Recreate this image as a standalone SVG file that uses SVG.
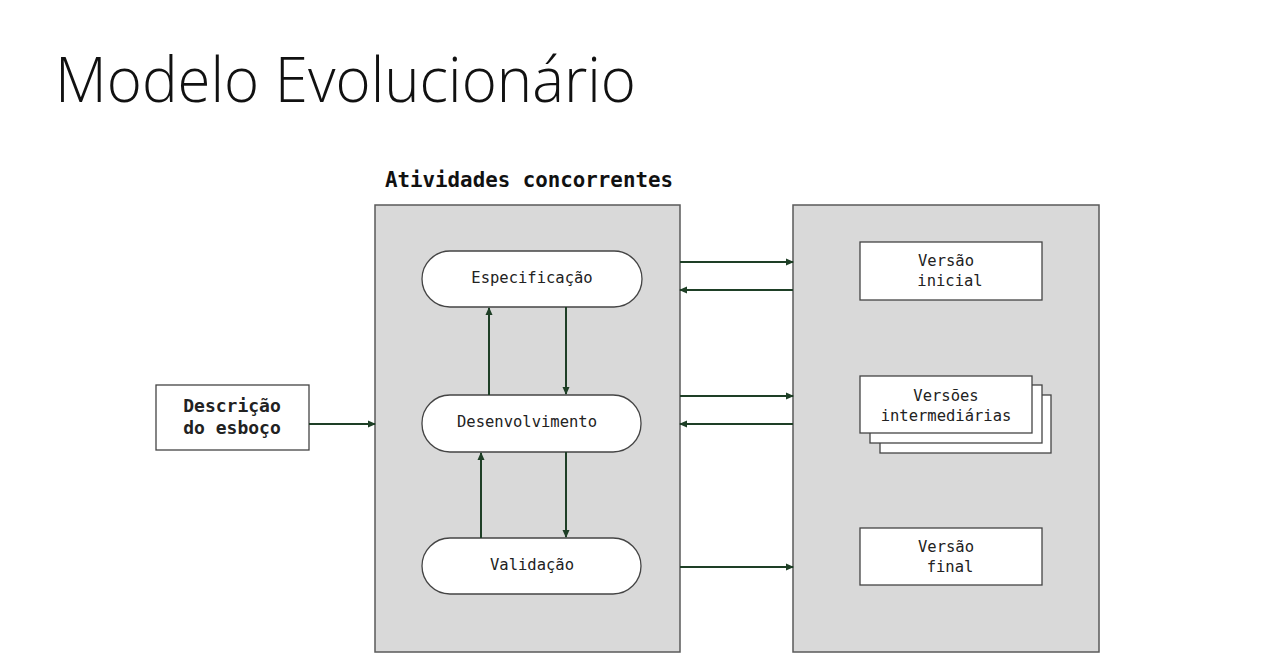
<svg xmlns="http://www.w3.org/2000/svg" width="1281" height="664" viewBox="0 0 1281 664">
<defs>
<marker id="ah" markerWidth="8" markerHeight="8" refX="7" refY="4" orient="auto" markerUnits="userSpaceOnUse">
<path d="M0,0.5 L8,4 L0,7.5 Z" fill="#1e3f26"/>
</marker>
</defs>
<style>
.title{font-family:"Open Sans","Liberation Sans",sans-serif;font-weight:300;font-size:62px;fill:#111}
.head{font-family:"DejaVu Sans Mono","Liberation Mono",monospace;font-weight:bold;font-size:20.8px;fill:#111}
.mono{font-family:"DejaVu Sans Mono","Liberation Mono",monospace;font-size:15.5px;fill:#222}
.bmono{font-family:"DejaVu Sans Mono","Liberation Mono",monospace;font-weight:bold;font-size:18px;fill:#222}
.panel{fill:#d9d9d9;stroke:#5a5a5a;stroke-width:1.5}
.node{fill:#fff;stroke:#444;stroke-width:1.3}
.conn{stroke:#1e3f26;stroke-width:2;fill:none;marker-end:url(#ah)}
</style>
<rect width="1281" height="664" fill="#fff"/>
<text class="title" x="55" y="102" textLength="581" lengthAdjust="spacingAndGlyphs">Modelo Evolucionário</text>
<text class="head" x="529" y="187" text-anchor="middle">Atividades concorrentes</text>

<g id="panel-atividades"><rect class="panel" x="375" y="205" width="305" height="447"/></g>
<g id="panel-versoes"><rect class="panel" x="793" y="205" width="306" height="447"/></g>

<g id="descricao">
<rect class="node" x="156" y="385" width="153" height="65"/>
<text class="bmono" x="232" y="412" text-anchor="middle">Descrição</text>
<text class="bmono" x="232" y="434" text-anchor="middle">do esboço</text>
</g>

<g id="especificacao">
<rect class="node" x="422" y="251" width="220" height="56" rx="28" ry="28"/>
<text class="mono" x="532" y="283" text-anchor="middle">Especificação</text>
</g>
<g id="desenvolvimento">
<rect class="node" x="422" y="395" width="219" height="57" rx="28" ry="28"/>
<text class="mono" x="527" y="427" text-anchor="middle">Desenvolvimento</text>
</g>
<g id="validacao">
<rect class="node" x="422" y="538" width="219" height="56" rx="28" ry="28"/>
<text class="mono" x="532" y="570" text-anchor="middle">Validação</text>
</g>

<g id="versao-inicial">
<rect class="node" x="860" y="242" width="182" height="58"/>
<text class="mono" x="946" y="266" text-anchor="middle">Versão</text>
<text class="mono" x="950" y="286" text-anchor="middle">inicial</text>
</g>
<g id="versoes-intermediarias">
<rect class="node" x="880" y="395" width="171" height="58"/>
<rect class="node" x="870" y="385" width="172" height="58"/>
<rect class="node" x="860" y="376" width="172" height="57"/>
<text class="mono" x="946" y="401" text-anchor="middle">Versões</text>
<text class="mono" x="946" y="421" text-anchor="middle">intermediárias</text>
</g>
<g id="versao-final">
<rect class="node" x="860" y="528" width="182" height="57"/>
<text class="mono" x="946" y="552" text-anchor="middle">Versão</text>
<text class="mono" x="950" y="572" text-anchor="middle">final</text>
</g>

<g id="connectors">
<line class="conn" x1="309" y1="424" x2="375" y2="424"/>
<line class="conn" x1="489" y1="395" x2="489" y2="308"/>
<line class="conn" x1="566" y1="307" x2="566" y2="394"/>
<line class="conn" x1="481" y1="538" x2="481" y2="453"/>
<line class="conn" x1="566" y1="452" x2="566" y2="537"/>
<line class="conn" x1="680" y1="262" x2="793" y2="262"/>
<line class="conn" x1="793" y1="290" x2="680" y2="290"/>
<line class="conn" x1="680" y1="396" x2="793" y2="396"/>
<line class="conn" x1="793" y1="424" x2="680" y2="424"/>
<line class="conn" x1="680" y1="567" x2="793" y2="567"/>
</g>
</svg>
